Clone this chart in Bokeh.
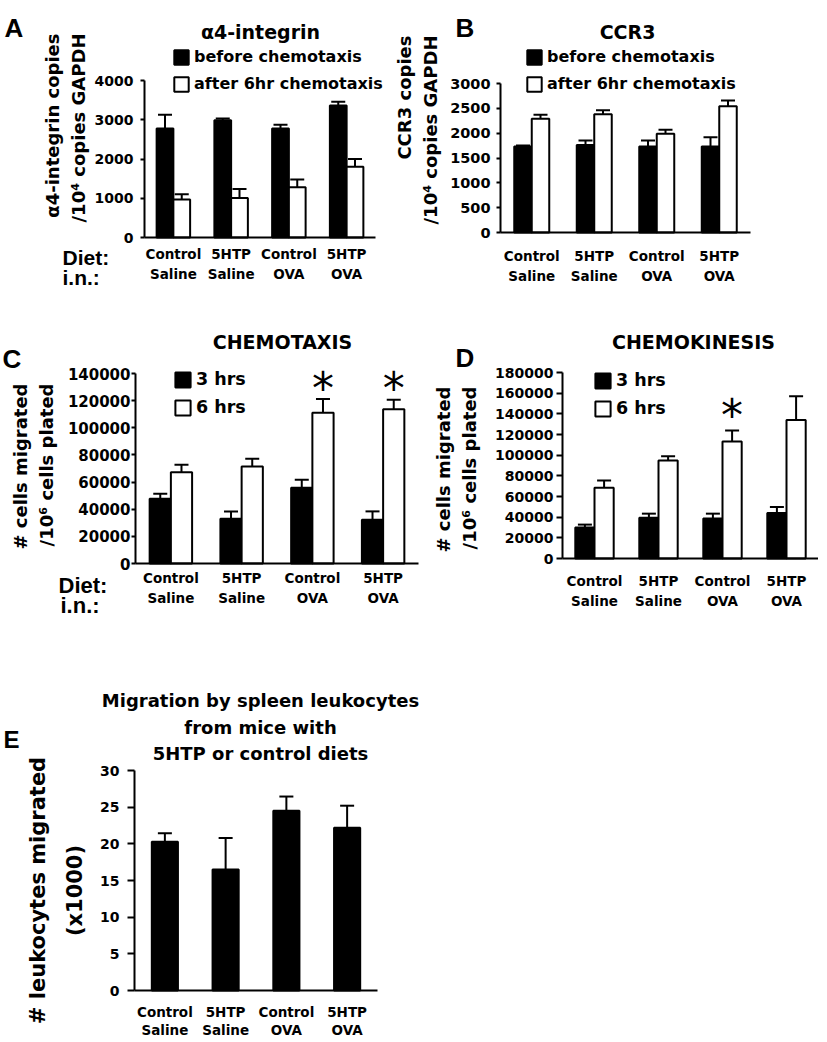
import math
from bokeh.plotting import figure
from bokeh.models import (ColumnDataSource, Range1d, Whisker, TeeHead, Legend, LegendItem,
                          Label, FixedTicker, BasicTickFormatter)
from bokeh.layouts import column, row
from bokeh.embed import file_html
from bokeh.resources import INLINE
from bokeh.core.properties import value

FONT = "DejaVu Sans"
LFONT = "Liberation Sans"

categories = ["Control\nSaline", "5HTP\nSaline", "Control\nOVA", "5HTP\nOVA"]

# Panel A: alpha4-integrin
a_before = [2780, 2990, 2780, 3360]
a_before_err = [350, 45, 95, 100]
a_after = [965, 1005, 1280, 1800]
a_after_err = [140, 230, 195, 200]
a_ticks = [0, 1000, 2000, 3000, 4000]

# Panel B: CCR3
b_before = [1730, 1760, 1730, 1730]
b_before_err = [20, 90, 120, 190]
b_after = [2290, 2380, 1990, 2540]
b_after_err = [80, 80, 80, 120]
b_ticks = [0, 500, 1000, 1500, 2000, 2500, 3000]

# Panel C: chemotaxis
c_3h = [47700, 33000, 55800, 32300]
c_3h_err = [3700, 5400, 5900, 6100]
c_6h = [67300, 71500, 111100, 113600]
c_6h_err = [5400, 5600, 10100, 7100]
c_sig = [False, False, True, True]
c_ticks = [0, 20000, 40000, 60000, 80000, 100000, 120000, 140000]

# Panel D: chemokinesis
d_3h = [29900, 39500, 38600, 44000]
d_3h_err = [2900, 3900, 4800, 5800]
d_6h = [68500, 94900, 113200, 134100]
d_6h_err = [7100, 4100, 10600, 22800]
d_sig = [False, False, True, False]
d_ticks = [0, 20000, 40000, 60000, 80000, 100000, 120000, 140000, 160000, 180000]

# Panel E: spleen leukocytes
e_vals = [20.3, 16.5, 24.5, 22.2]
e_err = [1.15, 4.3, 1.95, 3.0]
e_ticks = [0, 5, 10, 15, 20, 25, 30]

cat_pos = [i + 0.5 for i in range(len(categories))]


class Panel:
    def __init__(self, geo, ticks, ytick_out, ytick_standoff, ytick_size, xtick_standoff,
                 xtick_lh=1.28):
        # geo: fig_x0, fig_y0, width, height, axis_left_px, axis_right_px, zero_px, top_tick_px
        x0, y0, w, h, fl, fr, zy, ty = geo
        self.x0, self.y0, self.w, self.h = x0, y0, w, h
        u = (fr - fl) / len(categories)
        vpp = ticks[-1] / (zy - ty)
        p = figure(width=w, height=h, output_backend="svg", toolbar_location=None,
                   x_range=Range1d((x0 - fl) / u, (x0 + w - fl) / u),
                   y_range=Range1d(-(y0 + h - zy) * vpp, (zy - y0) * vpp),
                   min_border=0, min_border_left=0, min_border_right=0,
                   min_border_top=0, min_border_bottom=0)
        p.title.visible = False
        p.outline_line_color = None
        p.xgrid.grid_line_color = None
        p.ygrid.grid_line_color = None
        xa = p.xaxis[0]
        xa.fixed_location = 0
        xa.bounds = (0, len(categories))
        xa.ticker = FixedTicker(ticks=cat_pos)
        xa.major_label_overrides = {pos: c for pos, c in zip(cat_pos, categories)}
        xa.axis_line_width = 2
        xa.major_tick_line_color = None
        xa.major_tick_out = 0
        xa.major_tick_in = 0
        xa.minor_tick_line_color = None
        xa.major_label_text_font = FONT
        xa.major_label_text_font_size = "13.5px"
        xa.major_label_text_font_style = "bold"
        xa.major_label_text_color = "black"
        xa.major_label_text_line_height = xtick_lh
        xa.major_label_standoff = xtick_standoff
        ya = p.yaxis[0]
        ya.fixed_location = 0
        ya.ticker = FixedTicker(ticks=ticks)
        ya.bounds = (0, ticks[-1])
        ya.formatter = BasicTickFormatter(use_scientific=False)
        ya.axis_line_width = 2
        ya.major_tick_line_width = 2
        ya.major_tick_out = ytick_out
        ya.major_tick_in = 0
        ya.minor_tick_line_color = None
        ya.major_label_text_font = FONT
        ya.major_label_text_font_size = ytick_size
        ya.major_label_text_font_style = "bold"
        ya.major_label_text_color = "black"
        ya.major_label_standoff = ytick_standoff
        self.p = p

    def label(self, text, px, py, font=FONT, size="19px", align="left", angle=0.0,
              baseline="alphabetic", line_height=1.2):
        self.p.add_layout(Label(x=px - self.x0, y=self.y0 + self.h - py, x_units="screen",
                                y_units="screen", text=text, text_font=font,
                                text_font_size=size, text_font_style="bold",
                                text_align=align, text_baseline=baseline, angle=angle,
                                text_color="black", text_line_height=line_height))

    def grouped(self, s1, e1, s2, e2, names, bw, leg_px, leg_size, glyph, sig=None,
                sig_offset=-11):
        p = self.p
        off = bw / 2
        src = ColumnDataSource(dict(
            x1=[c - off for c in cat_pos], x2=[c + off for c in cat_pos],
            v1=s1, t1=[a + b for a, b in zip(s1, e1)],
            v2=s2, t2=[a + b for a, b in zip(s2, e2)]))
        r1 = p.vbar(x="x1", top="v1", width=bw, source=src,
                    fill_color="black", line_color="black", line_width=2)
        r2 = p.vbar(x="x2", top="v2", width=bw, source=src,
                    fill_color="white", line_color="black", line_width=2)
        for xb, lo, up in (("x1", "v1", "t1"), ("x2", "v2", "t2")):
            p.add_layout(Whisker(base=xb, lower=lo, upper=up, source=src, dimension="height",
                                 line_width=2, line_color="black",
                                 upper_head=TeeHead(size=14, line_width=2, line_color="black"),
                                 lower_head=None, level="annotation"))
        if sig is not None:
            sx = [c + off for c, s in zip(cat_pos, sig) if s]
            sy = [a + b for a, b, s in zip(s2, e2, sig) if s]
            p.text(x="x", y="y", text=value("*"), source=ColumnDataSource(dict(x=sx, y=sy)),
                   text_font=value("DejaVu Sans"), text_font_size="44px", text_align="center",
                   text_baseline="alphabetic", y_offset=sig_offset, text_color="black")
        lx, ly = leg_px
        leg = Legend(items=[LegendItem(label=names[0], renderers=[r1]),
                            LegendItem(label=names[1], renderers=[r2])],
                     location=(lx - self.x0, self.y0 + self.h - ly),
                     glyph_width=glyph, glyph_height=glyph, spacing=8,
                     padding=0, margin=0, border_line_color=None, background_fill_alpha=0,
                     label_text_font=FONT, label_text_font_size=leg_size,
                     label_text_font_style="bold", label_text_color="black",
                     label_standoff=4, label_height=glyph)
        p.add_layout(leg)


HALF_PI = math.pi / 2

# geometry: fig_x0, fig_y0, width, height, axis_left, axis_right, zero_y, top_tick_y
A = Panel((0, 0, 392, 292, 144, 375, 237, 80), a_ticks, 4, 7, "14px", 8)
A.grouped(a_before, a_before_err, a_after, a_after_err,
          ["before chemotaxis", "after 6hr chemotaxis"], 0.29, (172, 93), "16px", 18)
A.label("A", 4, 27, LFONT, "26px")
A.label("\u03b14-integrin", 260, 31, size="19px", align="center")
A.label("\u03b14-integrin copies\n/10\u2074 copies GAPDH", 65, 33, size="18px",
        align="right", angle=HALF_PI, baseline="middle")
A.label("Diet:", 62, 257, LFONT, "21px")
A.label("i.n.:", 62, 277, LFONT, "21px")

B = Panel((392, 0, 426, 292, 500, 750, 232, 83), b_ticks, 4, 6, "14.5px", 15)
B.grouped(b_before, b_before_err, b_after, b_after_err,
          ["before chemotaxis", "after 6hr chemotaxis"], 0.28, (525, 93), "16px", 18)
B.label("B", 455, 27, LFONT, "26px")
B.label("CCR3", 627, 31, size="19px", align="center")
B.label("CCR3 copies\n/10\u2074 copies GAPDH", 417, 35, size="18px",
        align="right", angle=HALF_PI, baseline="middle")

C = Panel((0, 292, 430, 332, 135, 418, 563, 373), c_ticks, 4, 1, "15px", 6)
C.grouped(c_3h, c_3h_err, c_6h, c_6h_err, ["3 hrs", "6 hrs"], 0.3, (173, 417), "17.5px", 19,
          sig=c_sig, sig_offset=-11)
C.label("C", 2, 358, LFONT, "26px")
C.label("CHEMOTAXIS", 282, 341, size="19px", align="center")
C.label("# cells migrated\n/10\u2076 cells plated", 33, 383, size="18px",
        align="right", angle=HALF_PI, baseline="middle")
C.label("Diet:", 58, 585, LFONT, "22px")
C.label("i.n.:", 60, 605, LFONT, "22px")

D = Panel((430, 292, 388, 332, 562, 818, 558, 372), d_ticks, 6, 3, "14px", 14)
D.grouped(d_3h, d_3h_err, d_6h, d_6h_err, ["3 hrs", "6 hrs"], 0.3, (593, 418), "17.5px", 19,
          sig=d_sig, sig_offset=-15)
D.label("D", 455, 357, LFONT, "26px")
D.label("CHEMOKINESIS", 693, 341, size="19px", align="center")
D.label("# cells migrated\n/10\u2076 cells plated", 456, 386, size="18px",
        align="right", angle=HALF_PI, baseline="middle")

E = Panel((0, 624, 818, 416, 134, 377, 990, 770), e_ticks, 7, 8, "14px", 13, xtick_lh=1.18)
srcE = ColumnDataSource(dict(x=cat_pos, v=e_vals, t=[a + b for a, b in zip(e_vals, e_err)]))
E.p.vbar(x="x", top="v", width=0.43, source=srcE, fill_color="black", line_color="black",
         line_width=2)
E.p.add_layout(Whisker(base="x", lower="v", upper="t", source=srcE, dimension="height",
                       line_width=2, line_color="black",
                       upper_head=TeeHead(size=14, line_width=2, line_color="black"),
                       lower_head=None, level="annotation"))
E.label("E", 3, 739, LFONT, "24px")
e_title = ["Migration by spleen leukocytes", "from mice with", "5HTP or control diets"]
for line, base_y in zip(e_title, (700, 727, 753)):
    E.label(line, 260, base_y, size="18px", align="center")
E.label("# leukocytes migrated\n(x1000)", 56, 890, size="21px", align="center",
        angle=HALF_PI, baseline="middle", line_height=1.55)

layout = column(row(A.p, B.p), row(C.p, D.p), E.p)
open("out.html", "w").write(file_html(layout, INLINE))
